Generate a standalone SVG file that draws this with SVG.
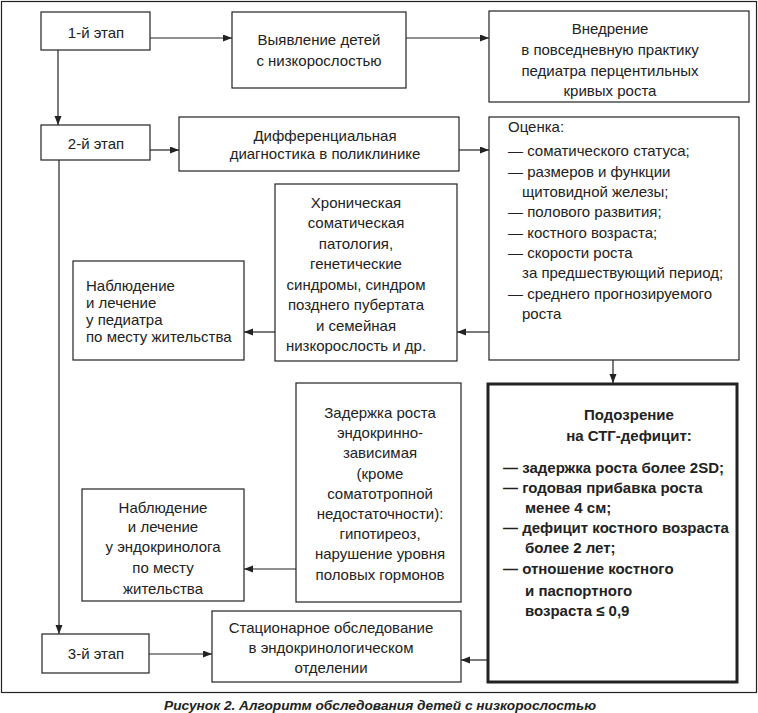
<svg xmlns="http://www.w3.org/2000/svg" width="758" height="713" viewBox="0 0 758 713">
<defs>
<marker id="ah" markerWidth="10" markerHeight="8" refX="9" refY="3.5" orient="auto" markerUnits="userSpaceOnUse">
<path d="M0,0 L9,3.5 L0,7 z" fill="#222"/>
</marker>
<style>
.box{fill:#fff;stroke:#222;stroke-width:1.2}
.thick{fill:#fff;stroke:#222;stroke-width:3}
.t{font-family:"Liberation Sans",Arial,sans-serif;font-size:15px;fill:#222}
.c{text-anchor:middle}
.b{font-weight:bold}
.cn{fill:none;stroke:#222;stroke-width:1.2}
.cap{font-family:"Liberation Sans",Arial,sans-serif;font-size:13.7px;font-weight:bold;font-style:italic;fill:#222;text-anchor:middle}
</style>
</defs>
<rect x="0" y="0" width="758" height="713" fill="#fff"/>
<rect x="1.5" y="1.5" width="755" height="691" fill="none" stroke="#222" stroke-width="1.2"/>

<g id="connectors">
<line class="cn" x1="150" y1="38" x2="232" y2="38" marker-end="url(#ah)"/>
<line class="cn" x1="406" y1="38" x2="489" y2="38" marker-end="url(#ah)"/>
<line class="cn" x1="58" y1="50" x2="58" y2="125" marker-end="url(#ah)"/>
<line class="cn" x1="150" y1="150" x2="179" y2="150" marker-end="url(#ah)"/>
<line class="cn" x1="459" y1="150" x2="489" y2="150" marker-end="url(#ah)"/>
<line class="cn" x1="59" y1="160" x2="59" y2="634" marker-end="url(#ah)"/>
<line class="cn" x1="489" y1="332" x2="457" y2="332" marker-end="url(#ah)"/>
<line class="cn" x1="275" y1="332" x2="244" y2="332" marker-end="url(#ah)"/>
<line class="cn" x1="613" y1="360" x2="613" y2="383" marker-end="url(#ah)"/>
<line class="cn" x1="296" y1="569" x2="244" y2="569" marker-end="url(#ah)"/>
<line class="cn" x1="149" y1="654" x2="212" y2="654" marker-end="url(#ah)"/>
<line class="cn" x1="487" y1="660" x2="461" y2="660" marker-end="url(#ah)"/>
</g>

<g id="stage1">
<rect class="box" x="41" y="12" width="109" height="38"/>
<text class="t c" x="96" y="38">1-й этап</text>
</g>
<g id="detect">
<rect class="box" x="232" y="12" width="174" height="76"/>
<text class="t c" x="319" y="44.5">Выявление детей</text>
<text class="t c" x="319" y="65.5">с низкорослостью</text>
</g>
<g id="implement">
<rect class="box" x="489" y="11" width="260" height="91"/>
<text class="t c" x="610" y="33.5">Внедрение</text>
<text class="t c" x="610" y="54.5">в повседневную практику</text>
<text class="t c" x="610" y="75.5">педиатра перцентильных</text>
<text class="t c" x="610" y="95.5">кривых роста</text>
</g>
<g id="stage2">
<rect class="box" x="41" y="125" width="109" height="35"/>
<text class="t c" x="96" y="148.5">2-й этап</text>
</g>
<g id="diffdiag">
<rect class="box" x="179" y="117" width="280" height="54"/>
<text class="t c" x="325" y="140.5">Дифференциальная</text>
<text class="t c" x="325" y="158.5">диагностика в поликлинике</text>
</g>
<g id="assessment">
<rect class="box" x="489" y="117" width="250" height="243"/>
<text class="t" x="508" y="132">Оценка:</text>
<text class="t" x="508" y="156">— соматического статуса;</text>
<text class="t" x="508" y="176.5">— размеров и функции</text>
<text class="t" x="522" y="197">щитовидной железы;</text>
<text class="t" x="508" y="217">— полового развития;</text>
<text class="t" x="508" y="237.5">— костного возраста;</text>
<text class="t" x="508" y="258">— скорости роста</text>
<text class="t" x="522" y="278">за предшествующий период;</text>
<text class="t" x="508" y="298.5">— среднего прогнозируемого</text>
<text class="t" x="522" y="319">роста</text>
</g>
<g id="chronic">
<rect class="box" x="275" y="184" width="182" height="177"/>
<text class="t c" x="356" y="207.5">Хроническая</text>
<text class="t c" x="356" y="228">соматическая</text>
<text class="t c" x="356" y="248.5">патология,</text>
<text class="t c" x="356" y="269">генетические</text>
<text class="t c" x="356" y="289.5">синдромы, синдром</text>
<text class="t c" x="356" y="310">позднего пубертата</text>
<text class="t c" x="356" y="330.5">и семейная</text>
<text class="t c" x="356" y="351">низкорослость и др.</text>
</g>
<g id="pediatrician">
<rect class="box" x="73" y="261" width="171" height="99"/>
<text class="t" x="86" y="290.5">Наблюдение</text>
<text class="t" x="86" y="307.5">и лечение</text>
<text class="t" x="86" y="324.5">у педиатра</text>
<text class="t" x="86" y="341.5">по месту жительства</text>
</g>
<g id="endodelay">
<rect class="box" x="296" y="383" width="165" height="219"/>
<text class="t c" x="380" y="417.5">Задержка роста</text>
<text class="t c" x="380" y="438">эндокринно-</text>
<text class="t c" x="380" y="458">зависимая</text>
<text class="t c" x="380" y="478.5">(кроме</text>
<text class="t c" x="380" y="498.5">соматотропной</text>
<text class="t c" x="380" y="519">недостаточности):</text>
<text class="t c" x="380" y="539">гипотиреоз,</text>
<text class="t c" x="380" y="559">нарушение уровня</text>
<text class="t c" x="380" y="579.5">половых гормонов</text>
</g>
<g id="endocrinologist">
<rect class="box" x="82" y="489" width="162" height="112"/>
<text class="t c" x="163" y="512.5">Наблюдение</text>
<text class="t c" x="163" y="532">и лечение</text>
<text class="t c" x="163" y="552">у эндокринолога</text>
<text class="t c" x="163" y="573">по месту</text>
<text class="t c" x="163" y="593.5">жительства</text>
</g>
<g id="stgsuspect">
<rect class="thick" x="488" y="384" width="249" height="298"/>
<text class="t c b" x="629" y="419.5">Подозрение</text>
<text class="t c b" x="629" y="441">на СТГ-дефицит:</text>
<text class="t b" x="503" y="473">— задержка роста более 2SD;</text>
<text class="t b" x="503" y="493">— годовая прибавка роста</text>
<text class="t b" x="525" y="513">менее 4 см;</text>
<text class="t b" x="503" y="533">— дефицит костного возраста</text>
<text class="t b" x="525" y="552.5">более 2 лет;</text>
<text class="t b" x="503" y="574">— отношение костного</text>
<text class="t b" x="525" y="595.5">и паспортного</text>
<text class="t b" x="525" y="616">возраста ≤ 0,9</text>
</g>
<g id="stage3">
<rect class="box" x="42" y="634" width="107" height="39"/>
<text class="t c" x="96" y="659">3-й этап</text>
</g>
<g id="inpatient">
<rect class="box" x="212" y="611" width="249" height="71"/>
<text class="t c" x="331" y="632.5">Стационарное обследование</text>
<text class="t c" x="331" y="652.5">в эндокринологическом</text>
<text class="t c" x="331" y="673">отделении</text>
</g>
<text class="cap" x="380" y="710">Рисунок 2. Алгоритм обследования детей с низкорослостью</text>
</svg>
